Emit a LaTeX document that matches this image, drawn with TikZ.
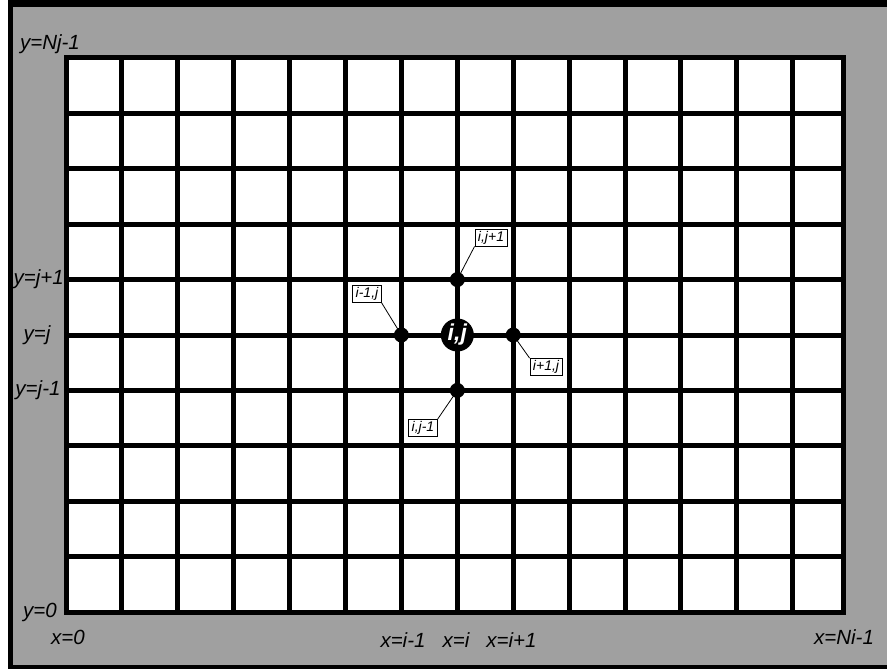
\documentclass[tikz,border=0pt]{standalone}
\usepackage{fontspec}
\setmainfont{Liberation Sans}
\definecolor{framegray}{RGB}{160,160,160}
\tikzset{
  gridline/.style={line width=5pt, black},
  dotnode/.style={circle, fill=black, inner sep=0pt, minimum size=15pt},
  centernode/.style={circle, fill=black, inner sep=0pt, minimum size=33pt, text=white, font=\fontsize{23}{23}\selectfont\bfseries\itshape},
  tagbox/.style={draw=black, line width=0.8pt, fill=white, inner xsep=3pt, inner ysep=2pt, font=\fontsize{14}{14}\selectfont\itshape},
  axislabel/.style={font=\fontsize{20.5}{20.5}\selectfont\itshape, inner sep=0pt},
  leader/.style={line width=0.8pt, black}
}
\begin{document}
\begin{tikzpicture}[x=1pt, y=-1pt]
\useasboundingbox (0,0) rectangle (887,669);
% frame
\fill[black] (8,0) rectangle (887,669);
\fill[framegray] (13,7) rectangle (887,665);
% grid
\fill[white] (66,58) rectangle (843,612);
\foreach \c in {1,...,13} {
  \draw[gridline] (66+55.9*\c,58) -- (66+55.9*\c,612);
}
\foreach \r in {1,...,9} {
  \draw[gridline] (66,58+55.4*\r) -- (843,58+55.4*\r);
}
\draw[gridline] (66,58) rectangle (843,612);
% stencil points
\node[centernode] (cij) at (457.3,335) {i,j};
\node[dotnode] (nleft) at (401.4,335) {};
\node[dotnode] (nright) at (513.2,335) {};
\node[dotnode] (nup) at (457.3,279.6) {};
\node[dotnode] (ndown) at (457.3,390.4) {};
% tags
\node[tagbox] (tup) at (491,237.5) {i,j+1};
\node[tagbox] (tleft) at (367,294) {i-1,j};
\node[tagbox] (tright) at (546,367) {i+1,j};
\node[tagbox] (tdown) at (423,428) {i,j-1};
\draw[leader] (tup.south west) -- (nup.center);
\draw[leader] (tleft.south east) -- (nleft.center);
\draw[leader] (tright.north west) -- (nright.center);
\draw[leader] (tdown.north east) -- (ndown.center);
% axis labels
\node[axislabel] (ytop) at (50,44) {y=Nj-1};
\node[axislabel, anchor=east] (yjp) at (64,279.6) {y=j+1};
\node[axislabel] (yj) at (37,335) {y=j};
\node[axislabel] (yjm) at (38,390.4) {y=j-1};
\node[axislabel] (yzero) at (40,612) {y=0};
\node[axislabel] (xzero) at (68,637) {x=0};
\node[axislabel] (xim) at (403,640) {x=i-1};
\node[axislabel] (xi) at (456,640) {x=i};
\node[axislabel] (xip) at (511.5,640) {x=i+1};
\node[axislabel] (xend) at (844,637) {x=Ni-1};
\end{tikzpicture}
\end{document}
